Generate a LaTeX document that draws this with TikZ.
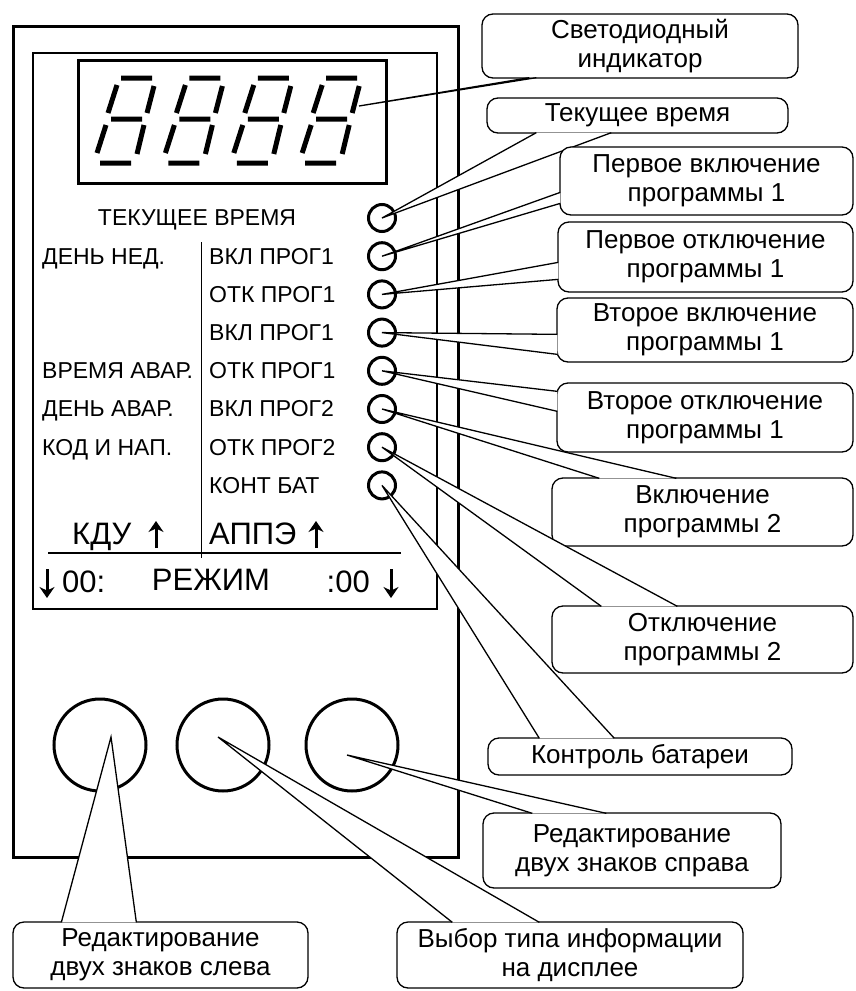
\documentclass[tikz,border=0pt]{standalone}
\usepackage{fontspec}
\setmainfont{Liberation Sans}
\usetikzlibrary{arrows.meta, calc}

\begin{document}
\begin{tikzpicture}[x=1pt, y=-1pt,
    every node/.style={text=black},
    lbl/.style={font=\fontsize{23}{25}\selectfont, inner sep=0pt},
    big/.style={font=\fontsize{31}{33}\selectfont, inner sep=0pt},
    seg/.style={line width=5pt},
    led/.style={circle, draw, line width=3pt, minimum size=27pt, inner sep=0pt},
    knob/.style={circle, draw, line width=3pt, minimum size=92pt, inner sep=0pt},
    arr/.style={line width=3pt, -{Stealth[length=11pt, width=15pt]}},
    note/.style={draw, fill=white, line width=1.3pt, rounded corners=11pt,
                 align=center, font=\fontsize{26}{29}\selectfont, inner sep=0pt},
    tail/.style={draw, fill=white, line width=1.3pt}
  ]
  \useasboundingbox (0,0) rectangle (855,991);

  % housing and panel
  \draw[line width=3pt] (13,26) rectangle (458,857);
  \draw[line width=2pt] (33,53) rectangle (437,609);
  \draw[line width=3pt] (78,60) rectangle (386,183);

  % four seven-segment digits
  \foreach \d in {0,...,3}
    \draw[seg, xshift=68.4*\d] (121,78) -- (152,78) (111,119) -- (142,119) (100,163) -- (131,163)
      (117,85) -- (108,113) (154,86) -- (147,113) (106,125) -- (97,153) (144,125) -- (137,154);
  \coordinate (dig) at (359,106);

  % indicator lamps
  \foreach \i in {0,...,7}
    \node[led] (led\i) at (382, 218+38.2*\i) {};

  % panel captions
  \node[lbl, anchor=base] (title) at (197,225) {ТЕКУЩЕЕ ВРЕМЯ};
  \node[lbl, anchor=base west] (dow) at (42,264) {ДЕНЬ НЕД.};
  \node[lbl, anchor=base west] (atime) at (42,378.6) {ВРЕМЯ АВАР.};
  \node[lbl, anchor=base west] (aday) at (42,416.8) {ДЕНЬ АВАР.};
  \node[lbl, anchor=base west] (code) at (42,455) {КОД И НАП.};
  \foreach \t [count=\k from 0] in {ВКЛ ПРОГ1, ОТК ПРОГ1, ВКЛ ПРОГ1, ОТК ПРОГ1, ВКЛ ПРОГ2, ОТК ПРОГ2, КОНТ БАТ}
    \node[lbl, anchor=base west] (prog\k) at (209, 264+38.2*\k) {\t};
  \draw (201,242) -- (201,558);
  \draw[line width=1.2pt] (48,553) -- (401,553);

  \node[big, anchor=base west] (kdu) at (72,544) {КДУ};
  \node[big, anchor=base west] (appe) at (209,544) {АППЭ};
  \node[big, anchor=base west] (hleft) at (62,592) {00:};
  \node[big, anchor=base] (mode) at (211,590) {РЕЖИМ};
  \node[big, anchor=base east] (hright) at (370,592) {:00};
  \draw[arr] (156,548) -- (156,521);
  \draw[arr] (316,548) -- (316,521);
  \draw[arr] (47,569) -- (47,598);
  \draw[arr] (391,569) -- (391,598);

  % buttons
  \node[knob] (knob1) at (100,745) {};
  \node[knob] (knob2) at (223,745) {};
  \node[knob] (knob3) at (352,745) {};

  % callouts
  \node[note, minimum width=316pt, minimum height=64pt] (cled) at (640,46) {Светодиодный\\индикатор};
  \draw[tail] ($(cled.south west)+(48,-1)$) -- (dig) -- ($(cled.south west)+(55,-1)$);
  \node[note, minimum width=301pt, minimum height=35pt] (ctime) at (637.5,115.5) {Текущее время};
  \draw[tail] ($(ctime.south west)+(50,-1)$) -- (led0.center) -- ($(ctime.south west)+(125,-1)$);
  \node[note, minimum width=293pt, minimum height=68pt] (con1a) at (706.5,181) {Первое включение\\программы 1};
  \draw[tail] ($(con1a.north west)+(1,46)$) -- (led1.center) -- ($(con1a.north west)+(1,57)$);
  \node[note, minimum width=295pt, minimum height=70pt] (coff1a) at (705.5,257) {Первое отключение\\программы 1};
  \draw[tail] ($(coff1a.north west)+(1,41)$) -- (led2.center) -- ($(coff1a.north west)+(1,58)$);
  \node[note, minimum width=296pt, minimum height=64pt] (con1b) at (705,330) {Второе включение\\программы 1};
  \draw[tail] ($(con1b.north west)+(1,37)$) -- (led3.center) -- ($(con1b.north west)+(1,57)$);
  \node[note, minimum width=296pt, minimum height=69pt] (coff1b) at (705,417.5) {Второе отключение\\программы 1};
  \draw[tail] ($(coff1b.north west)+(1,9)$) -- (led4.center) -- ($(coff1b.north west)+(1,29)$);
  \node[note, minimum width=301pt, minimum height=68pt] (con2) at (702.5,512) {Включение\\программы 2};
  \draw[tail] ($(con2.north west)+(48,1)$) -- (led5.center) -- ($(con2.north west)+(125,1)$);
  \node[note, minimum width=301pt, minimum height=67pt] (coff2) at (702.5,639.5) {Отключение\\программы 2};
  \draw[tail] ($(coff2.north west)+(50,1)$) -- (led6.center) -- ($(coff2.north west)+(126,1)$);
  \node[note, minimum width=304pt, minimum height=37pt] (cbat) at (640,756.5) {Контроль батареи};
  \draw[tail] ($(cbat.north west)+(52,1)$) -- (led7.center) -- ($(cbat.north west)+(127,1)$);
  \node[note, minimum width=298pt, minimum height=75pt] (cright) at (632,850.5) {Редактирование\\двух знаков справа};
  \draw[tail] ($(cright.north west)+(50,1)$) -- ([shift={(-5,10)}]knob3.center) -- ($(cright.north west)+(124,1)$);
  \node[note, minimum width=295pt, minimum height=66pt] (cleft) at (160.5,955) {Редактирование\\двух знаков слева};
  \draw[tail] ($(cleft.north west)+(49,1)$) -- ([shift={(11,-8)}]knob1.center) -- ($(cleft.north west)+(124,1)$);
  \node[note, minimum width=346pt, minimum height=66pt] (cmode) at (570,955) {Выбор типа информации\\на дисплее};
  \draw[tail] ($(cmode.north west)+(56,1)$) -- ([shift={(-5,-8)}]knob2.center) -- ($(cmode.north west)+(143,1)$);
\end{tikzpicture}
\end{document}
